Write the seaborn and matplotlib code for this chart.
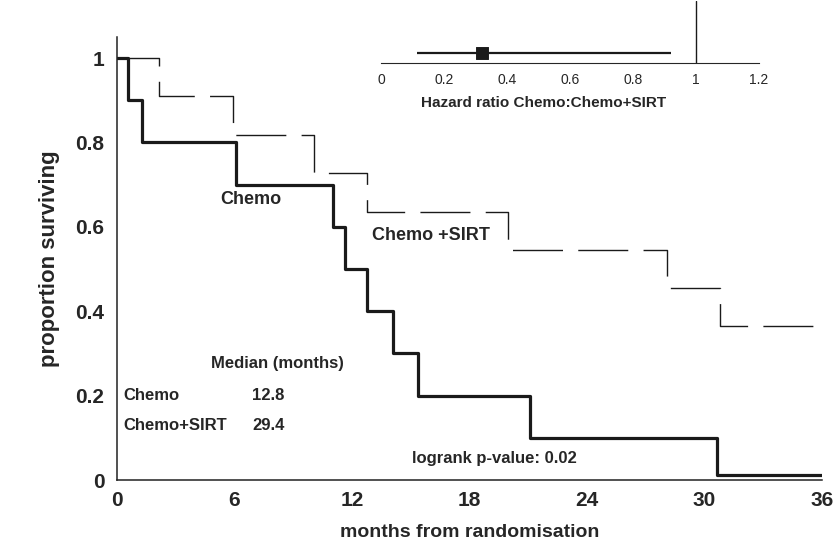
import matplotlib
matplotlib.use("Agg")
import matplotlib.pyplot as plt
from matplotlib.ticker import MultipleLocator
import seaborn as sns
import pandas as pd

# ---- data ----
chemo_t = [0, 0.56, 1.28, 6.07, 11.02, 11.63, 12.76, 14.08, 15.36, 21.07, 30.66, 36]
chemo_s = [1, 0.9, 0.8, 0.7, 0.6, 0.5, 0.4, 0.3, 0.2, 0.1, 0.012, 0.012]
sirt_t = [0, 2.14, 5.92, 10.05, 12.76, 19.95, 28.1, 30.77, 35.6]
sirt_s = [1, 0.909, 0.818, 0.727, 0.636, 0.545, 0.455, 0.364, 0.364]
x_ticks = [0, 6, 12, 18, 24, 30, 36]
y_ticks = [0, 0.2, 0.4, 0.6, 0.8, 1]
y_tick_labels = ["0", "0.2", "0.4", "0.6", "0.8", "1"]
hr = 0.32
hr_lo, hr_hi = 0.114, 0.92
hr_ticks = [0, 0.2, 0.4, 0.6, 0.8, 1, 1.2]
hr_tick_labels = ["0", "0.2", "0.4", "0.6", "0.8", "1", "1.2"]
median_rows = [("Chemo", "12.8"), ("Chemo+SIRT", "29.4")]

sns.set_style("white")
plt.rcParams["font.family"] = ["Liberation Sans", "DejaVu Sans"]

fig = plt.figure(figsize=(8.4, 5.55), dpi=100)
ax = fig.add_axes([117 / 840, 75 / 555, (822 - 117) / 840, 443 / 555])

df_c = pd.DataFrame({"t": chemo_t, "s": chemo_s})
df_s = pd.DataFrame({"t": sirt_t, "s": sirt_s})
sns.lineplot(data=df_s, x="t", y="s", ax=ax, color="#1a1a1a", lw=1.0,
             drawstyle="steps-post", estimator=None, sort=False)
ax.lines[-1].set_dashes((36, 11))
sns.lineplot(data=df_c, x="t", y="s", ax=ax, color="#1a1a1a", lw=2.3,
             drawstyle="steps-post", estimator=None, sort=False)

ax.set_xlim(0, 36)
ax.set_ylim(0, 1.05)
ax.set_xticks(x_ticks)
ax.set_xticklabels([str(v) for v in x_ticks])
ax.set_yticks(y_ticks)
ax.set_yticklabels(y_tick_labels)
ax.tick_params(axis="both", length=0, labelsize=15)
ax.tick_params(axis="y", pad=9)
ax.tick_params(axis="x", pad=8)
for lab in ax.get_xticklabels() + ax.get_yticklabels():
    lab.set_fontweight("bold")
for sp in ["top", "right"]:
    ax.spines[sp].set_visible(False)
for sp in ["left", "bottom"]:
    ax.spines[sp].set_color("#222222")
    ax.spines[sp].set_linewidth(1.1)

ax.set_xlabel("months from randomisation", fontsize=14, fontweight="bold", labelpad=10)
ax.set_ylabel("proportion surviving", fontsize=16, fontweight="bold", labelpad=11)

ax.text(6.84, 0.665, "Chemo", fontsize=13, fontweight="bold", ha="center", va="center")
ax.text(13.0, 0.58, "Chemo +SIRT", fontsize=13, fontweight="bold", ha="left", va="center")
ax.text(4.8, 0.275, "Median (months)", fontsize=12, fontweight="bold", ha="left", va="center")
row_y = [0.20, 0.13]
for (name, val), yy in zip(median_rows, row_y):
    ax.text(0.3, yy, name, fontsize=12, fontweight="bold", ha="left", va="center")
    ax.text(6.9, yy, val, fontsize=12, fontweight="bold", ha="left", va="center")
ax.text(15.05, 0.052, "logrank p-value: 0.02", fontsize=12, fontweight="bold",
        ha="left", va="center")

# ---- inset hazard ratio ----
ins = fig.add_axes([381 / 840, 1 - 63 / 555, (759 - 381) / 840, 62 / 555])
ins.set_facecolor("none")
ins.set_xlim(0, 1.2)
ins.set_ylim(0, 1)
ins.hlines(0.16, hr_lo, hr_hi, color="#1a1a1a", lw=1.6)
sns.scatterplot(x=[hr], y=[0.16], ax=ins, marker="s", s=70, color="#1a1a1a",
                edgecolor="#1a1a1a", zorder=5)
ins.axvline(1, color="#1a1a1a", lw=1.0)
for sp in ["top", "right", "left"]:
    ins.spines[sp].set_visible(False)
ins.spines["bottom"].set_linewidth(0.8)
ins.set_yticks([])
ins.set_xticks(hr_ticks)
ins.set_xticklabels(hr_tick_labels)
ins.xaxis.set_minor_locator(MultipleLocator(0.02))
ins.tick_params(axis="x", which="major", direction="in", length=4, width=0.8,
                labelsize=10, pad=7)
ins.tick_params(axis="x", which="minor", direction="in", length=2, width=0.6)
ins.set_xlabel("Hazard ratio Chemo:Chemo+SIRT", fontsize=11, fontweight="bold")
ins.xaxis.set_label_coords(0.43, -0.53)
ins.set_ylabel("")

fig.savefig("out.png", dpi=100)
